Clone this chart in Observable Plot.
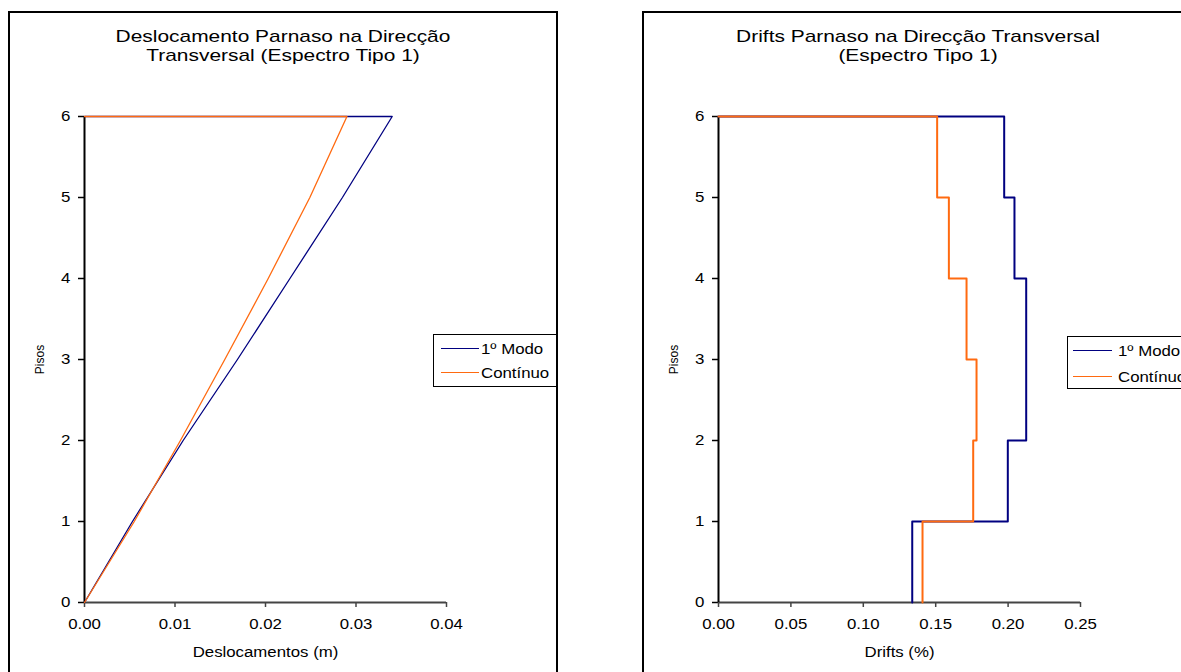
<!DOCTYPE html>
<html lang="pt">
<head>
<meta charset="utf-8">
<script src="https://cdn.jsdelivr.net/npm/d3@7"></script>
<script src="https://cdn.jsdelivr.net/npm/@observablehq/plot@0.6"></script>
<style>
  html, body { margin: 0; padding: 0; background: #fff; }
  body { width: 1181px; height: 672px; overflow: hidden; position: relative;
         font-family: "Liberation Sans", Arial, sans-serif; color: #000; }
  .abs { position: absolute; }
  .panel { position: absolute; box-sizing: border-box; border: 2px solid #000; pointer-events: none; }
  .title { position: absolute; text-align: center; font-size: 17px; line-height: 18.5px; transform: scaleX(1.23); transform-origin: center; white-space: nowrap; }
  .legend { position: absolute; box-sizing: border-box; border: 1.5px solid #000; background: #fff; }
  .swatch { position: absolute; height: 0; }
  .ltext { position: absolute; font-size: 14px; line-height: 16px; transform: scaleX(1.2); transform-origin: left center; white-space: nowrap; }
</style>
</head>
<body>
<div id="chartL" class="abs" style="left:0;top:0"></div>
<div id="chartR" class="abs" style="left:640px;top:0"></div>
<div id="overlay"></div>
<script>
// Storey levels
const pisos = [0, 1, 2, 3, 4, 5, 6];

// Lateral displacement per floor (m); the last point closes the outline at floor 6
const pisosDesloc = [0, 1, 2, 3, 4, 5, 6, 6];
const deslocModo1 = [0, 0.0053, 0.0109, 0.0169, 0.0227, 0.0285, 0.0340, 0];
const deslocContinuo = [0, 0.0055, 0.0106, 0.0155, 0.0203, 0.0249, 0.0290, 0];

// Inter-storey drift (%) for storeys 1..6; the last value closes the outline at floor 6
const driftModo1 = [0.1338, 0.1998, 0.2125, 0.2125, 0.2044, 0.1973, 0];
const driftContinuo = [0.1409, 0.1759, 0.1782, 0.1713, 0.1591, 0.1510, 0];

const ticksDesloc = [0, 0.01, 0.02, 0.03, 0.04];
const ticksDrift = [0, 0.05, 0.10, 0.15, 0.20, 0.25];

const series = ["1º Modo", "Contínuo"];
const colors = ["#000080", "#ff6a10"];

const titles = [
  "Deslocamento Parnaso na Direcção<br>Transversal (Espectro Tipo 1)",
  "Drifts Parnaso na Direcção Transversal<br>(Espectro Tipo 1)"
];
const xLabels = ["Deslocamentos (m)", "Drifts (%)"];
const yLabel = "Pisos";

const rowsOf = (xs, ys) => xs.map((x, i) => ({x, piso: ys[i]}));

// Widen horizontal labels to the chart's broad lettering
function stretchText(svg, k) {
  svg.querySelectorAll("text").forEach(t => {
    const tr = (t.getAttribute("transform") || "") + (t.parentNode.getAttribute("transform") || "");
    if (tr.includes("rotate")) return;
    const w = t.getComputedTextLength();
    if (w > 0) {
      t.setAttribute("textLength", (w * k).toFixed(1));
      t.setAttribute("lengthAdjust", "spacingAndGlyphs");
    }
  });
}

function panelPlot({width, marginLeft, marginRight, domainX, ticksX, lines, curve, strokeWidth, xLabel}) {
  return Plot.plot({
    width, height: 672,
    marginLeft, marginRight, marginTop: 116, marginBottom: 70,
    style: {fontFamily: "'Liberation Sans', Arial, sans-serif", fontSize: "14px", color: "#000", background: "transparent", overflow: "visible"},
    x: {domain: domainX, axis: null},
    y: {domain: [0, 6], axis: null},
    marks: [
      Plot.axisY({ticks: pisos, tickSize: 6, tickPadding: 8, tickFormat: d3.format("d"), label: null, stroke: "#000", strokeWidth: 1.5, fontSize: 14}),
      Plot.axisX({ticks: ticksX, tickSize: 5, tickPadding: 12, tickFormat: d3.format(".2f"), label: null, stroke: "#444", strokeWidth: 1.5, fontSize: 14}),
      Plot.ruleY([0], {stroke: "#444", strokeWidth: 2}),
      Plot.ruleX([0], {stroke: "#000", strokeWidth: 2}),
      ...lines.map((rows, i) => Plot.line(rows, {x: "x", y: "piso", stroke: colors[i], strokeWidth, curve})),
      Plot.text([xLabel], {text: d => d, frameAnchor: "bottom", dy: 50, lineAnchor: "middle", textAnchor: "middle", fontSize: 14}),
      Plot.text([yLabel], {text: d => d, frameAnchor: "left", dx: -44, rotate: -90, textAnchor: "middle", lineAnchor: "middle", fontSize: 12})
    ]
  });
}

const plotL = panelPlot({
  width: 560, marginLeft: 84, marginRight: 114,
  domainX: [0, 0.04], ticksX: ticksDesloc,
  lines: [rowsOf(deslocModo1, pisosDesloc), rowsOf(deslocContinuo, pisosDesloc)],
  curve: "linear", strokeWidth: 1.3, xLabel: xLabels[0]
});
const plotR = panelPlot({
  width: 541, marginLeft: 78, marginRight: 101,
  domainX: [0, 0.25], ticksX: ticksDrift,
  lines: [rowsOf(driftModo1, pisos), rowsOf(driftContinuo, pisos)],
  curve: "step-before", strokeWidth: 2, xLabel: xLabels[1]
});
document.getElementById("chartL").appendChild(plotL);
document.getElementById("chartR").appendChild(plotR);
stretchText(plotL, 1.2);
stretchText(plotR, 1.2);

// Titles, legends and panel frames
const overlay = document.getElementById("overlay");
function add(html) { overlay.insertAdjacentHTML("beforeend", html); }

add(`<div class="title" style="left:0;width:566px;top:28px">${titles[0]}</div>`);
add(`<div class="title" style="left:618px;width:600px;top:28px">${titles[1]}</div>`);

function legend(left, top, width, lineX0, lineX1, textX, ys) {
  add(`<div class="legend" style="left:${left}px;top:${top}px;width:${width}px;height:53px"></div>`);
  series.forEach((s, i) => {
    add(`<div class="swatch" style="left:${lineX0}px;width:${lineX1 - lineX0}px;top:${ys[i] - 0.75}px;border-top:1.5px solid ${colors[i]}"></div>`);
    add(`<div class="ltext" style="left:${textX}px;top:${ys[i] - 8}px">${s}</div>`);
  });
}
legend(433, 334, 124, 441, 479, 481, [349, 373]);
legend(1067, 336, 160, 1073, 1112, 1118, [351, 377]);

add(`<div class="panel" style="left:8px;top:11px;width:550px;height:720px"></div>`);
add(`<div class="panel" style="left:642px;top:11px;width:600px;height:720px"></div>`);
</script>
</body>
</html>
